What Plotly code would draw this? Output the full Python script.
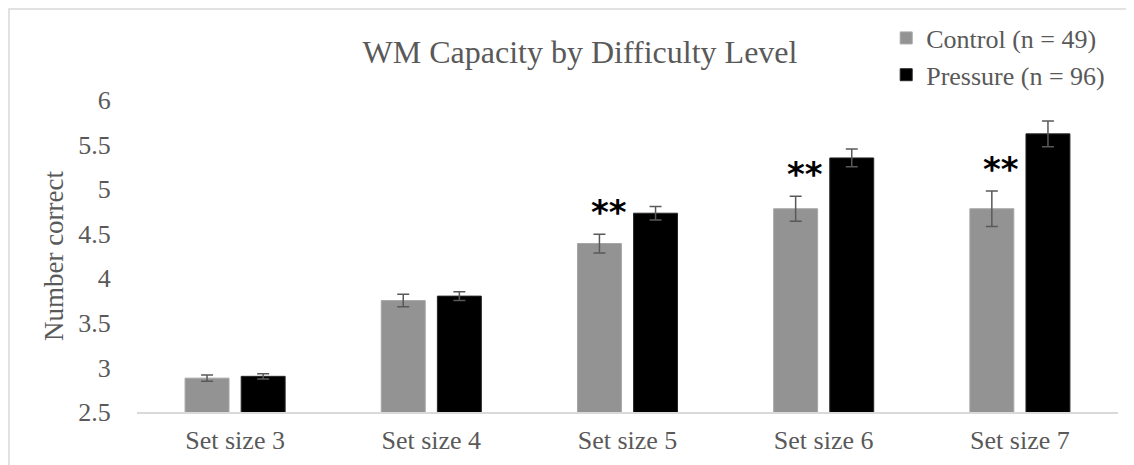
import plotly.graph_objects as go

categories = ["Set size 3", "Set size 4", "Set size 5", "Set size 6", "Set size 7"]
control_mean = [2.88, 3.75, 4.39, 4.78, 4.78]
control_err = [0.035, 0.07, 0.105, 0.14, 0.20]
pressure_mean = [2.90, 3.80, 4.73, 5.35, 5.62]
pressure_err = [0.03, 0.05, 0.075, 0.10, 0.145]
significant = [False, False, True, True, True]
y_ticks = [2.5, 3, 3.5, 4, 4.5, 5, 5.5, 6]
y_tick_labels = ["2.5", "3", "3.5", "4", "4.5", "5", "5.5", "6"]

FONT = "Liberation Serif"
TXT = "#595959"
ERR = "#595959"

fig = go.Figure()
fig.add_trace(go.Bar(
    x=categories, y=control_mean, name="Control (n = 49)",
    marker=dict(color="#939393", line=dict(color="#a6a6a6", width=1)),
    width=0.224, offset=-0.255,
    error_y=dict(type="data", array=control_err, color=ERR, thickness=1.5, width=6),
))
fig.add_trace(go.Bar(
    x=categories, y=pressure_mean, name="Pressure (n = 96)",
    marker=dict(color="#000000", line=dict(color="#262626", width=1)),
    width=0.224, offset=0.031,
    error_y=dict(type="data", array=pressure_err, color=ERR, thickness=1.5, width=6),
))

for cat, m, e, s in zip(categories, control_mean, control_err, significant):
    if s:
        fig.add_annotation(x=cat, y=m + e + 0.25, text="<b>**</b>", showarrow=False,
                           xshift=-19, font=dict(family="DejaVu Sans", size=34, color="#000000"),
                           yanchor="middle")

fig.add_shape(type="rect", xref="paper", yref="paper", x0=-0.1305, x1=1.0092, y0=-0.3, y1=1.292,
              line=dict(color="#d9d9d9", width=1.5), layer="below")

fig.update_layout(
    width=1126, height=457,
    margin=dict(l=129, r=16, t=92, b=53, autoexpand=False),
    paper_bgcolor="white", plot_bgcolor="white",
    barmode="overlay",
    font=dict(family=FONT, color=TXT, size=26),
    title=dict(text="WM Capacity by Difficulty Level", x=572 / 1126, xanchor="center",
               y=1 - 44 / 457, yanchor="middle", yref="container",
               font=dict(family=FONT, size=32, color=TXT)),
    showlegend=True,
    legend=dict(x=0.7637, y=1.274, xanchor="left", yanchor="top",
                font=dict(family=FONT, size=26, color=TXT),
                bgcolor="rgba(0,0,0,0)", tracegroupgap=0, itemwidth=30),
    xaxis=dict(showline=True, linecolor="#d9d9d9", linewidth=1.5, showgrid=False, zeroline=False,
               ticks="outside", ticklen=4, tickcolor="rgba(0,0,0,0)",
               tickfont=dict(family=FONT, size=26, color=TXT)),
    yaxis=dict(range=[2.5, 6], tickvals=y_ticks, ticktext=y_tick_labels, showgrid=False, zeroline=False,
               showline=False, ticks="outside", ticklen=20, tickcolor="rgba(0,0,0,0)",
               tickfont=dict(family=FONT, size=26, color=TXT),
               title=dict(text="Number correct", font=dict(family=FONT, size=27, color=TXT), standoff=6)),
)

fig.write_html("out.html")
